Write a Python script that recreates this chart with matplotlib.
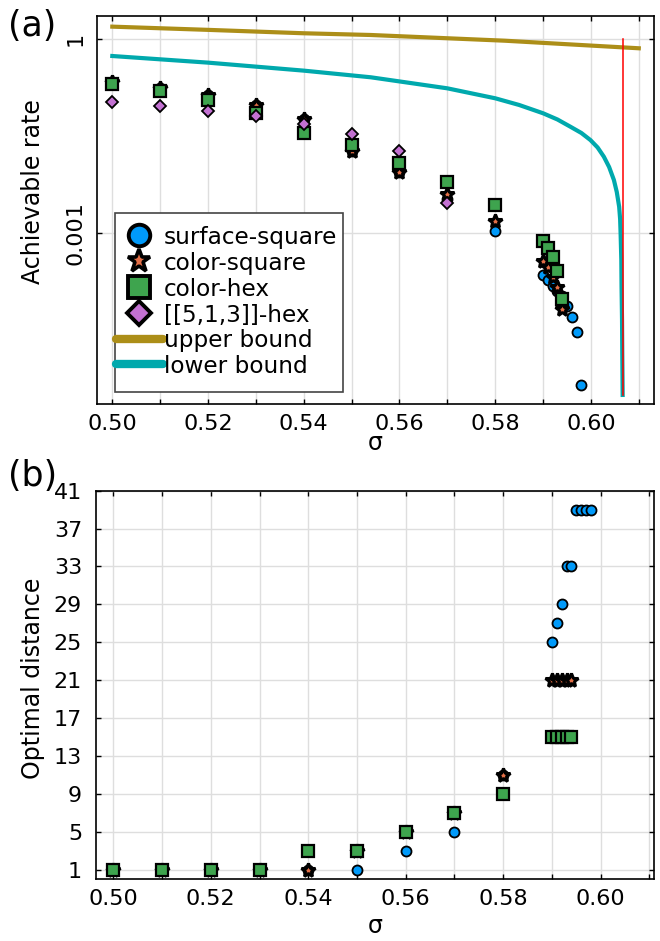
import numpy as np
import matplotlib
matplotlib.use("Agg")
import matplotlib.pyplot as plt
from matplotlib.lines import Line2D
from matplotlib.patches import Rectangle

# ---------------- data ----------------
sigma_main = [0.50, 0.51, 0.52, 0.53, 0.54, 0.55, 0.56, 0.57, 0.58]
sigma_tail_surf = [0.590, 0.591, 0.592, 0.593, 0.594, 0.595, 0.596, 0.597, 0.598]
sigma_tail_col = [0.590, 0.591, 0.592, 0.593, 0.594]

rate_surface_square = [0.220, 0.178, 0.137, 0.0962, 0.0577, 0.0186, 0.00871, 0.00333, 0.00107,
                       2.24e-4, 1.85e-4, 1.53e-4, 1.26e-4, 1.06e-4, 7.41e-5, 4.95e-5, 2.93e-5, 4.39e-6]
rate_color_square = [0.220, 0.178, 0.138, 0.0962, 0.0577, 0.0186, 0.00871, 0.00398, 0.00152,
                     3.72e-4, 2.94e-4, 2.08e-4, 1.44e-4, 6.73e-5]
rate_color_hex = [0.203, 0.160, 0.115, 0.0729, 0.0350, 0.0231, 0.0120, 0.00617, 0.00269,
                  7.45e-4, 5.86e-4, 4.21e-4, 2.61e-4, 9.62e-5]
sigma_513 = [0.50, 0.51, 0.52, 0.53, 0.54, 0.55, 0.56, 0.57]
rate_513_hex = [0.108, 0.0927, 0.0783, 0.0643, 0.0493, 0.0341, 0.0186, 0.00294]

sigma_upper = [0.500, 0.520, 0.540, 0.554, 0.582, 0.610]
rate_upper = [1.57, 1.40, 1.24, 1.166, 0.951, 0.726]

sigma_lower = [0.500, 0.520, 0.540, 0.554, 0.570, 0.580, 0.585, 0.590, 0.593, 0.5957,
               0.598, 0.5999, 0.6014, 0.6027, 0.6038, 0.6048, 0.6054, 0.6059, 0.6061,
               0.6062, 0.60635, 0.6064, 0.6065, 0.60655, 0.60663]
rate_lower = [0.551, 0.435, 0.327, 0.258, 0.174, 0.122, 0.0961, 0.0715, 0.0573, 0.0443,
              0.0354, 0.0275, 0.0211, 0.0152, 0.01052, 0.00662, 0.00432, 0.00255, 0.00165,
              0.00100, 3.82e-4, 1.48e-4, 4.5e-5, 1.38e-5, 3.1e-6]

sigma_threshold = 0.6068
threshold_span = [3.1e-6, 1.0]

dist_surface_square = [1, 1, 1, 1, 1, 1, 3, 5, 11, 25, 27, 29, 33, 33, 39, 39, 39, 39]
dist_color_square = [1, 1, 1, 1, 1, 3, 5, 7, 11, 21, 21, 21, 21, 21]
dist_color_hex = [1, 1, 1, 1, 3, 3, 5, 7, 9, 15, 15, 15, 15, 15]

labels = ["surface-square", "color-square", "color-hex", "[[5,1,3]]-hex",
          "upper bound", "lower bound"]
xticks = [0.50, 0.52, 0.54, 0.56, 0.58, 0.60]
xticklabels = ["0.50", "0.52", "0.54", "0.56", "0.58", "0.60"]
dist_ticks = list(range(1, 42, 4))

# ---------------- styles ----------------
C_BLUE = "#009AFA"
C_ORANGE = "#E36F47"
C_GREEN = "#3EA44E"
C_PURPLE = "#C371D2"
C_GOLD = "#AC8E18"
C_CYAN = "#00A9AD"
GRID = "#dedede"

W, H = 660, 941
fig = plt.figure(figsize=(W / 100, H / 100), dpi=100)


def ax_rect(l, t, r, b):
    return [l / W, 1 - b / H, (r - l) / W, (b - t) / H]


ax1 = fig.add_axes(ax_rect(96.7, 15.7, 654, 404.3))
ax2 = fig.add_axes(ax_rect(96, 490.7, 654.3, 879))

circ = dict(marker="o", ms=7.2, mfc=C_BLUE, mec="black", mew=1.3, ls="none")
star = dict(marker="*", ms=10.5, mfc=C_ORANGE, mec="black", mew=2.2, ls="none")
sq = dict(marker="s", ms=8.5, mfc=C_GREEN, mec="black", mew=1.6, ls="none")
dia = dict(marker="D", ms=6.5, mfc=C_PURPLE, mec="black", mew=1.3, ls="none")

sig_surf = sigma_main + sigma_tail_surf
sig_col = sigma_main + sigma_tail_col

# ---------------- top panel ----------------
ax1.plot(sig_surf, rate_surface_square, **circ, zorder=3)
ax1.plot(sig_col, rate_color_square, **star, zorder=4)
ax1.plot(sig_col, rate_color_hex, **sq, zorder=5)
ax1.plot(sigma_513, rate_513_hex, **dia, zorder=6)
ax1.plot(sigma_upper, rate_upper, color=C_GOLD, lw=3.0, zorder=2)
ax1.plot(sigma_lower, rate_lower, color=C_CYAN, lw=3.0, zorder=2)
ax1.plot([sigma_threshold, sigma_threshold], threshold_span, color="red", lw=1.1, zorder=2.5)

ax1.set_yscale("log")
ax1.set_xlim(0.49674, 0.61318)
ax1.set_ylim(2.22e-6, 2.32)
ax1.set_yticks([1e-3, 1])
ax1.set_yticklabels(["0.001", "1"])
ax1.yaxis.set_minor_locator(matplotlib.ticker.NullLocator())

# ---------------- bottom panel ----------------
ax2.plot(sig_surf, dist_surface_square, **circ, zorder=3)
ax2.plot(sig_col, dist_color_square, **star, zorder=4)
ax2.plot(sig_col, dist_color_hex, **sq, zorder=5)
ax2.set_xlim(0.49645, 0.6110)
ax2.set_ylim(0, 41)
ax2.set_yticks(dist_ticks)
ax2.set_yticklabels([str(t) for t in dist_ticks])

for ax in (ax1, ax2):
    ax.set_xticks(xticks)
    ax.set_xticklabels(xticklabels)
    ax.xaxis.set_minor_locator(matplotlib.ticker.FixedLocator([0.51, 0.53, 0.55, 0.57, 0.59, 0.61]))
    ax.grid(True, which="major", color=GRID, lw=1.0)
    ax.grid(True, which="minor", axis="x", color=GRID, lw=1.0)
    ax.set_axisbelow(True)
    for s in ax.spines.values():
        s.set_linewidth(1.2)
        s.set_color("black")
    ax.tick_params(which="both", direction="in", length=3.5, width=1.0,
                   top=True, right=True, labelsize=16)
    ax.tick_params(axis="x", which="minor", length=3.5)
    ax.tick_params(axis="x", pad=7)
    ax.tick_params(axis="y", pad=10)

for lab in ax1.get_yticklabels():
    lab.set_rotation(90)
    lab.set_va("center")
ax1.tick_params(axis="y", pad=8)

# axis labels and panel tags
fig.text(33 / W, 1 - 192 / H, "Achievable rate", rotation=90, ha="center", va="center", fontsize=17)
fig.text(33 / W, 1 - 678 / H, "Optimal distance", rotation=90, ha="center", va="center", fontsize=17)
fig.text((96.7 + 654) / 2 / W, 1 - 443 / H, "σ", ha="center", va="center", fontsize=17)
fig.text((96 + 654.3) / 2 / W, 1 - 926 / H, "σ", ha="center", va="center", fontsize=17)
fig.text(32.5 / W, 1 - 26 / H, "(a)", ha="center", va="center", fontsize=25)
fig.text(32.5 / W, 1 - 476 / H, "(b)", ha="center", va="center", fontsize=25)

# ---------------- legend ----------------
handles = [
    Line2D([], [], marker="o", ms=15.5, mfc=C_BLUE, mec="black", mew=2.8, ls="none"),
    Line2D([], [], marker="*", ms=17, mfc=C_ORANGE, mec="black", mew=2.6, ls="none"),
    Line2D([], [], marker="s", ms=15.5, mfc=C_GREEN, mec="black", mew=2.8, ls="none"),
    Line2D([], [], marker="D", ms=12, mfc=C_PURPLE, mec="black", mew=2.8, ls="none"),
    Line2D([], [], color=C_GOLD, lw=6, solid_capstyle="round"),
    Line2D([], [], color=C_CYAN, lw=6, solid_capstyle="round"),
]
lx0 = (115 - 96.7) / (654 - 96.7)
ly0 = (404.3 - 391.7) / (404.3 - 15.7)
lw_ = (342.7 - 115) / (654 - 96.7)
lh_ = (391.7 - 212.7) / (404.3 - 15.7)
ax1.add_patch(Rectangle((lx0, ly0), lw_, lh_, transform=ax1.transAxes, fill=True,
                        facecolor="white", edgecolor="#444444", lw=1.2, zorder=8))
leg = ax1.legend(handles, labels, loc="center left",
                 bbox_to_anchor=(lx0, ly0 + lh_ / 2), borderaxespad=0,
                 frameon=False, fontsize=16.7, handlelength=2.0, handletextpad=0.05,
                 labelspacing=0.12, borderpad=0.05, handleheight=0.9)
leg.set_zorder(9)

fig.savefig("out.png", dpi=100)
